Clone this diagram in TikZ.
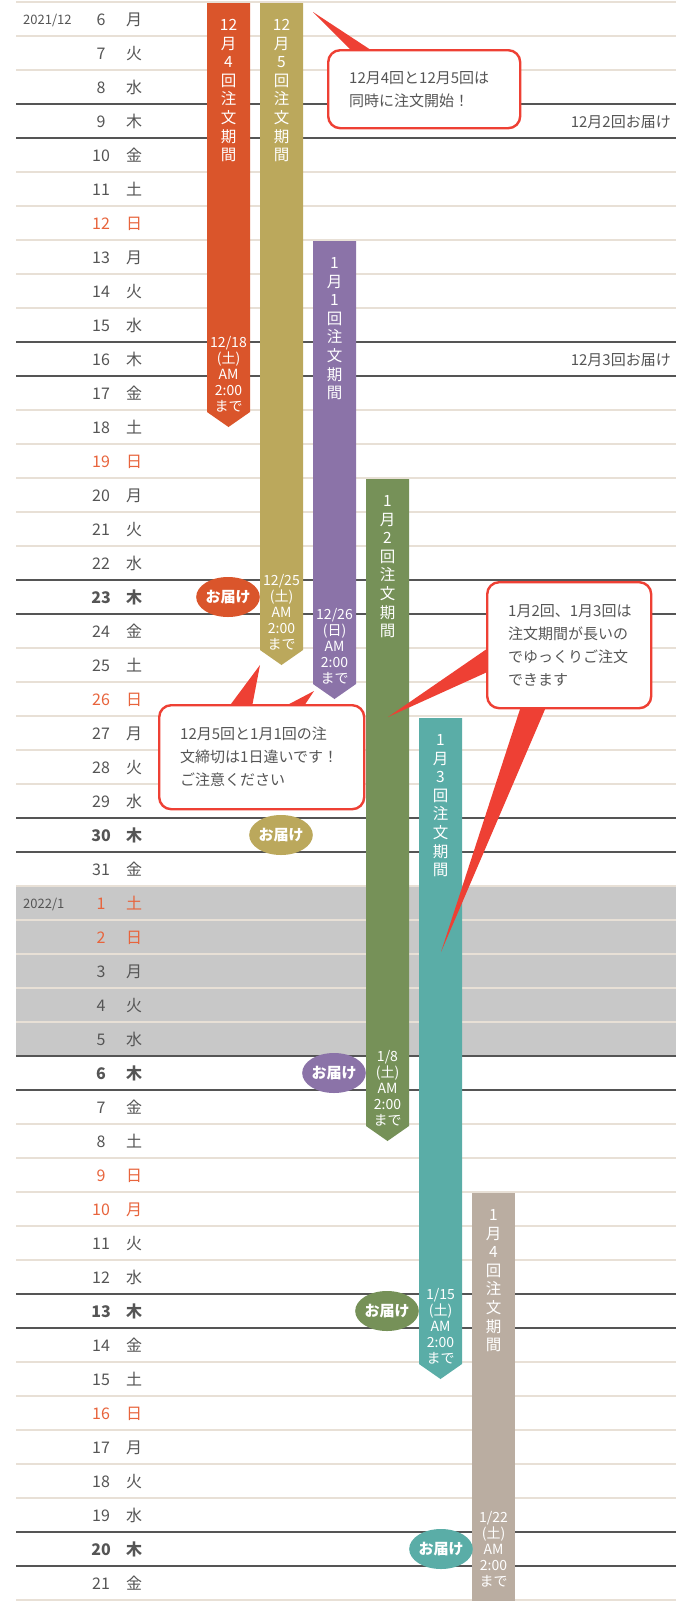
\documentclass[tikz,border=0pt]{standalone}
\usepackage{fontspec}
\setmainfont{Noto Sans CJK JP}
\usetikzlibrary{shapes.geometric}
\definecolor{cOrange}{HTML}{DA552B}
\definecolor{cOlive}{HTML}{BBA85C}
\definecolor{cPurple}{HTML}{8B73A8}
\definecolor{cGreen}{HTML}{769158}
\definecolor{cTeal}{HTML}{5AADA7}
\definecolor{cTaupe}{HTML}{BAADA1}
\definecolor{calred}{HTML}{EE4034}
\definecolor{redtxt}{HTML}{E8643C}
\definecolor{txt}{HTML}{555555}
\definecolor{lightline}{HTML}{E8E0D6}
\definecolor{darkline}{HTML}{555555}
\definecolor{grayband}{HTML}{C8C8C8}
\tikzset{
  daybase/.style={anchor=base, inner sep=0, font=\fontsize{16}{16}\selectfont},
  day-n/.style={daybase, text=txt},
  day-r/.style={daybase, text=redtxt},
  day-b/.style={daybase, text=txt, font=\fontsize{16}{16}\selectfont\bfseries},
  yearlbl/.style={anchor=base west, inner sep=0, text=txt, font=\fontsize{13}{13}\selectfont},
  rightlbl/.style={anchor=base east, inner sep=0, text=txt, font=\fontsize{15}{15}\selectfont},
  vtext/.style={anchor=base, inner sep=0, text=white, font=\fontsize{15.5}{15.5}\selectfont},
  dtext/.style={anchor=base, inner sep=0, text=white, font=\fontsize{14}{14}\selectfont},
  todoke/.style={ellipse, minimum width=59, minimum height=40, inner sep=0, text=white, font=\fontsize{15}{15}\selectfont\bfseries},
  cbox/.style={draw=calred, line width=2.4, fill=white, rounded corners=12, anchor=north west, inner xsep=21, inner ysep=0, align=left, text=txt, font=\fontsize{15}{23}\selectfont},
  wedge/.style={fill=calred},
}
\begin{document}
\begin{tikzpicture}[x=1pt,y=-1pt]
\useasboundingbox (0,0) rectangle (692,1607);
\fill[white] (0,0) rectangle (692,1607);
% gray band (Jan 1 - Jan 5)
\fill[grayband] (16,886) rectangle (676,1056);
% horizontal rules
\foreach \k in {0,...,47}{
  \pgfmathtruncatemacro\m{mod(\k,7)}
  \ifnum\m=3 \def\lc{darkline}\else\ifnum\m=4 \def\lc{darkline}\else\def\lc{lightline}\fi\fi
  \draw[\lc, line width=2.2] (16,2+34*\k) -- (676,2+34*\k);
}
% year labels
\node[yearlbl] (y2021) at (23,24) {2021/12};
\node[yearlbl] (y2022) at (23,908) {2022/1};
% day rows
\foreach \d/\w/\s [count=\i from 0] in {6/月/n,7/火/n,8/水/n,9/木/n,10/金/n,11/土/n,12/日/r,13/月/n,14/火/n,15/水/n,16/木/n,17/金/n,18/土/n,19/日/r,20/月/n,21/火/n,22/水/n,23/木/b,24/金/n,25/土/n,26/日/r,27/月/n,28/火/n,29/水/n,30/木/b,31/金/n,1/土/r,2/日/r,3/月/n,4/火/n,5/水/n,6/木/b,7/金/n,8/土/n,9/日/r,10/月/r,11/火/n,12/水/n,13/木/b,14/金/n,15/土/n,16/日/r,17/月/n,18/火/n,19/水/n,20/木/b,21/金/n}{
  \node[day-\s] (d\i) at (101,25+34*\i) {\d};
  \node[day-\s] (w\i) at (134,25+34*\i) {\w};
}
% right labels
\node[rightlbl] (r1) at (671,127) {12月2回お届け};
\node[rightlbl] (r2) at (671,365) {12月3回お届け};
% bars
\fill[cOrange] (207,3) -- (250,3) -- (250,412) -- (228.5,427) -- (207,412) -- cycle;
\fill[cOlive] (260,3) -- (303,3) -- (303,650) -- (281.5,665) -- (260,650) -- cycle;
\fill[cPurple] (313,241) -- (356,241) -- (356,684) -- (334.5,699) -- (313,684) -- cycle;
\fill[cGreen] (366,479) -- (409,479) -- (409,1126) -- (387.5,1141) -- (366,1126) -- cycle;
\fill[cTeal] (419,718) -- (462,718) -- (462,1364) -- (440.5,1379) -- (419,1364) -- cycle;
\fill[cTaupe] (472,1193) rectangle (515,1601);
% vertical bar titles
\foreach \t [count=\k from 0] in {12,月,4,回,注,文,期,間}
  \node[vtext] (va\k) at (228.5,3+27.5+18.6*\k) {\t};
\foreach \t [count=\k from 0] in {12,月,5,回,注,文,期,間}
  \node[vtext] (vb\k) at (281.5,3+27.5+18.6*\k) {\t};
\foreach \t [count=\k from 0] in {1,月,1,回,注,文,期,間}
  \node[vtext] (vc\k) at (334.5,241+27.5+18.6*\k) {\t};
\foreach \t [count=\k from 0] in {1,月,2,回,注,文,期,間}
  \node[vtext] (vd\k) at (387.5,479+27.5+18.6*\k) {\t};
\foreach \t [count=\k from 0] in {1,月,3,回,注,文,期,間}
  \node[vtext] (ve\k) at (440.5,718+27.5+18.6*\k) {\t};
\foreach \t [count=\k from 0] in {1,月,4,回,注,文,期,間}
  \node[vtext] (vf\k) at (493.5,1193+27.5+18.6*\k) {\t};
% deadlines
\foreach \t [count=\k from 0] in {12/18,{(土)},AM,2:00,まで}
  \node[dtext] (da\k) at (228.5,412-70+5+16*\k) {\t};
\foreach \t [count=\k from 0] in {12/25,{(土)},AM,2:00,まで}
  \node[dtext] (db\k) at (281.5,650-70+5+16*\k) {\t};
\foreach \t [count=\k from 0] in {12/26,{(日)},AM,2:00,まで}
  \node[dtext] (dc\k) at (334.5,684-70+5+16*\k) {\t};
\foreach \t [count=\k from 0] in {1/8,{(土)},AM,2:00,まで}
  \node[dtext] (dd\k) at (387.5,1126-70+5+16*\k) {\t};
\foreach \t [count=\k from 0] in {1/15,{(土)},AM,2:00,まで}
  \node[dtext] (de\k) at (440.5,1364-70+5+16*\k) {\t};
\foreach \t [count=\k from 0] in {1/22,{(土)},AM,2:00,まで}
  \node[dtext] (df\k) at (493.5,1587-70+5+16*\k) {\t};
% delivery ellipses
\node[todoke, fill=cOrange] (e1) at (228,597) {お届け};
\node[todoke, fill=cOlive] (e2) at (281,835) {お届け};
\node[todoke, fill=cPurple] (e3) at (334,1073) {お届け};
\node[todoke, fill=cGreen] (e4) at (387,1311) {お届け};
\node[todoke, fill=cTeal] (e5) at (441,1549) {お届け};
% callout 1
\coordinate (t1) at (313,12);
\fill[wedge] (t1) -- (357,56) -- (380,56) -- cycle;
\node[cbox, minimum width=192, minimum height=78, text width=150] (cb1) at (327,49) {12月4回と12月5回は\\同時に注文開始！};
% callout 2
\coordinate (t2a) at (260,665);
\coordinate (t2b) at (314,691);
\fill[wedge] (t2a) -- (225,712) -- (251,712) -- cycle;
\fill[wedge] (t2b) -- (274,712) -- (300,712) -- cycle;
\node[cbox, minimum width=205, minimum height=104, text width=163] (cb2) at (158,704) {12月5回と1月1回の注\\文締切は1日違いです！\\ご注意ください};
% callout 3
\coordinate (t3a) at (388,717);
\coordinate (t3b) at (441,952);
\fill[wedge] (t3a) -- (494,644) -- (494,669) -- cycle;
\fill[wedge] (t3b) -- (523,700) -- (549,700) -- cycle;
\node[cbox, minimum width=164, minimum height=126, text width=122] (cb3) at (486,581) {1月2回、1月3回は\\注文期間が長いの\\でゆっくりご注文\\できます};
\end{tikzpicture}
\end{document}
